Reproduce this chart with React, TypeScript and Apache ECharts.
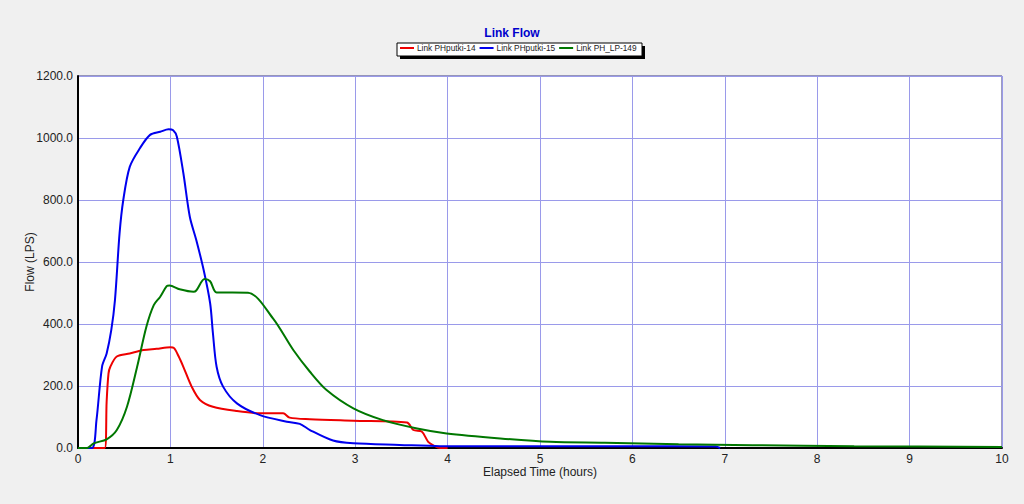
import React, { useEffect, useRef } from "react";
import * as echarts from "echarts";

const seriesNames = ["Link PHputki-14", "Link PHputki-15", "Link PH_LP-149"];
const seriesColors = ["#ee0000", "#0000ee", "#007700"];
const yTicks = [0, 200, 400, 600, 800, 1000, 1200];
const xTicks = [0, 1, 2, 3, 4, 5, 6, 7, 8, 9, 10];

const redHours = [0, 0.29, 0.31, 0.33, 0.35, 0.42, 0.56, 0.71, 0.85, 1.0, 1.04, 1.09, 1.14, 1.23, 1.32, 1.46, 1.72, 1.97, 2.22, 2.29, 2.51, 2.98, 3.56, 3.63, 3.72, 3.79, 3.85, 3.92, 4.0];
const redFlow = [0, 0, 150, 240, 262, 295, 305, 316, 320, 325, 322, 295, 262, 198, 155, 133, 119, 112, 112, 98, 93, 88, 82, 58, 53, 20, 8, 0, 0];

const blueHours = [0, 0.15, 0.2, 0.26, 0.31, 0.36, 0.4, 0.45, 0.49, 0.56, 0.67, 0.78, 0.89, 0.98, 1.03, 1.07, 1.14, 1.21, 1.28, 1.36, 1.43, 1.46, 1.5, 1.57, 1.72, 1.97, 2.26, 2.4, 2.51, 2.76, 2.98, 3.48, 3.92, 5.0, 6.0, 6.9, 6.95];
const blueFlow = [0, 0, 90, 262, 305, 380, 477, 693, 800, 907, 967, 1010, 1020, 1028, 1025, 1004, 887, 746, 671, 574, 467, 371, 262, 198, 144, 106, 85, 78, 58, 24, 15, 10, 6, 6, 6, 5, 0];

const greenHours = [0, 0.1, 0.17, 0.31, 0.42, 0.53, 0.64, 0.74, 0.82, 0.89, 0.96, 0.99, 1.1, 1.25, 1.28, 1.37, 1.43, 1.5, 1.84, 2.11, 2.33, 2.51, 2.69, 2.98, 3.3, 3.67, 3.99, 4.57, 5.11, 5.7, 6.5, 7.3, 8.4, 10];
const greenFlow = [0, 0, 15, 28, 58, 133, 262, 391, 461, 488, 522, 524, 512, 504, 508, 545, 538, 502, 501, 418, 316, 246, 187, 128, 90, 63, 47, 31, 20, 17, 12, 9, 6, 3];

const hours = [redHours, blueHours, greenHours];
const flows = [redFlow, blueFlow, greenFlow];

export default function App() {
  const ref = useRef<HTMLDivElement>(null);
  useEffect(() => {
    if (!ref.current) return;
    const chart = echarts.init(ref.current, undefined, { renderer: "svg" });
    const font = "'Liberation Sans', Arial, sans-serif";
    chart.setOption({
      animation: false,
      backgroundColor: "#f0f0f0",
      textStyle: { fontFamily: font },
      title: {
        text: "Link Flow",
        left: "center",
        top: 22,
        textStyle: { color: "#0000cc", fontSize: 12, fontWeight: "bold", fontFamily: font },
      },
      graphic: [
        { type: "rect", shape: { x: 400, y: 46, width: 245, height: 13 }, style: { fill: "#000" }, z: 0 },
        { type: "rect", shape: { x: 397, y: 43, width: 245, height: 13 }, style: { fill: "#fff", stroke: "#000", lineWidth: 1 }, z: 1 },
      ],
      legend: {
        top: 44,
        left: 400,
        padding: 0,
        itemWidth: 14,
        itemHeight: 2,
        itemGap: 4,
        icon: "rect",
        textStyle: { fontSize: 8.3, color: "#222", fontFamily: font, padding: [0, 0, 0, -2] },
        data: seriesNames,
        z: 10,
      },
      grid: {
        left: 78,
        right: 22,
        top: 76,
        bottom: 56,
        show: true,
        backgroundColor: "#fff",
        borderColor: "#3a3a80",
        borderWidth: 1,
      },
      xAxis: {
        type: "value",
        min: 0,
        max: 10,
        interval: 1,
        name: "Elapsed Time (hours)",
        nameLocation: "middle",
        nameGap: 18,
        nameMoveOverlap: false,
        nameTextStyle: { fontSize: 12, color: "#222", fontFamily: font },
        axisLine: { show: true, lineStyle: { color: "#000", width: 2 } },
        axisTick: { show: false },
        axisLabel: { fontSize: 12, color: "#222", margin: 5, fontFamily: font, customValues: xTicks },
        splitLine: { show: true, lineStyle: { color: "#9a9aea", width: 1 } },
      },
      yAxis: {
        type: "value",
        min: 0,
        max: 1200,
        interval: 200,
        name: "Flow (LPS)",
        nameLocation: "middle",
        nameGap: 42,
        nameMoveOverlap: false,
        nameTextStyle: { fontSize: 12, color: "#222", fontFamily: font },
        axisLine: { show: true, lineStyle: { color: "#000", width: 2 } },
        axisTick: { show: false },
        axisLabel: {
          fontSize: 12,
          color: "#222",
          margin: 5,
          fontFamily: font,
          formatter: (v: number) => (yTicks.includes(v) ? v.toFixed(1) : ""),
        },
        splitLine: { show: true, lineStyle: { color: "#9a9aea", width: 1 } },
      },
      series: seriesNames.map((name, i) => ({
        name,
        type: "line",
        showSymbol: false,
        symbol: "none",
        smooth: 0.3,
        color: seriesColors[i],
        lineStyle: { width: 2, color: seriesColors[i] },
        data: hours[i].map((h, j) => [h, flows[i][j]]),
      })),
    });
    return () => chart.dispose();
  }, []);
  return <div ref={ref} style={{ width: 1024, height: 504, position: "absolute", left: 0, top: 0 }} />;
}
